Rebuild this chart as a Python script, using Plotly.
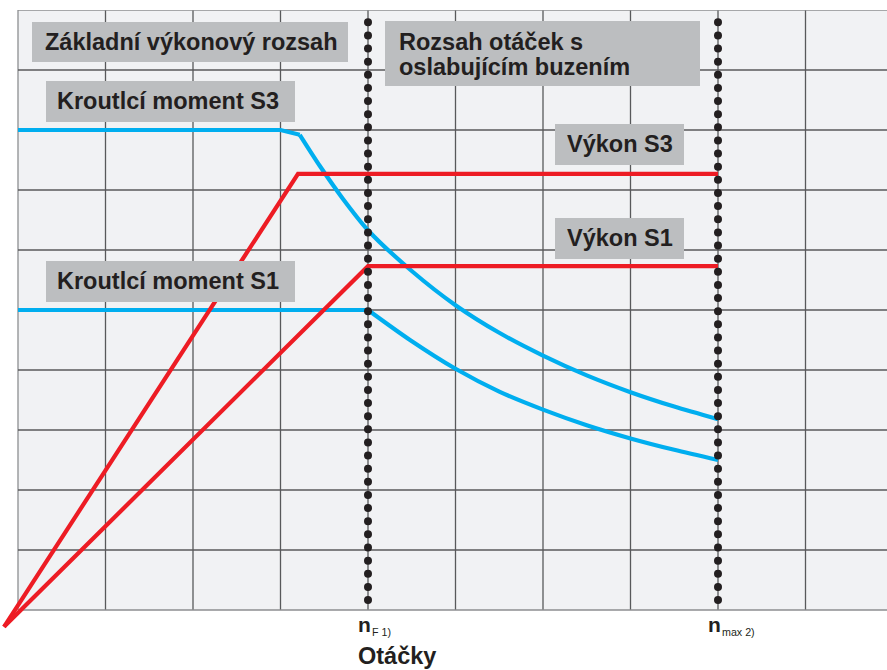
import plotly.graph_objects as go

# ---------------- data (grid units: x = speed, y = torque / power) ----------------
torque_s3_x = [0, 3.0, 3.22, 3.45, 3.71, 4.0, 4.5, 5.0, 5.5, 6.0, 6.5, 7.0, 7.5, 8.0]
torque_s3_y = [8.0, 8.0, 7.92, 7.40, 6.86, 6.33, 5.65, 5.08, 4.62, 4.24, 3.91, 3.63, 3.39, 3.18]

torque_s1_x = [0, 4.0, 4.48, 5.0, 5.5, 6.0, 6.5, 7.0, 7.5, 8.0]
torque_s1_y = [5.0, 5.0, 4.5, 4.02, 3.64, 3.34, 3.08, 2.86, 2.67, 2.5]

power_s3_x = [-0.16, 3.2, 8.0]
power_s3_y = [-0.28, 7.27, 7.27]

power_s1_x = [-0.16, 4.0, 8.0]
power_s1_y = [-0.28, 5.73, 5.73]

ref_speeds = [4, 8]                     # n_F, n_max
ref_main = ["n", "n"]
ref_sub = ["F 1)", "max 2)"]

grid_x = list(range(0, 10))
grid_y = list(range(0, 11))

# ---------------- layout constants ----------------
W, H = 887, 670
ML, MR, MT, MB = 0, 0, 10, 30
PX_X = 87.5      # px per x unit
PX_Y = 60.0      # px per y unit
X0_PX = 18.0     # pixel of x = 0
Y0_PX = 610.0    # pixel of y = 0

x_lo = -X0_PX / PX_X
x_hi = (W - X0_PX) / PX_X
y_hi = (Y0_PX - MT) / PX_Y
y_lo = -(H - MB - Y0_PX) / PX_Y


def px2x(px):
    return (px - X0_PX) / PX_X


def px2y(py):
    return (Y0_PX - py) / PX_Y


def px2paper_y(py):
    return (H - MB - py) / (H - MT - MB)


TXT = "#231f20"
BOX = "#bcbec0"
BG = "#f1f2f4"
GRID = "#58595b"
EDGE = "#8d8e91"
BLUE = "#00aeef"
RED = "#ed1c24"
FONT = "Liberation Sans, Arial, Helvetica, sans-serif"
LW = 4.2

fig = go.Figure()

# torque curves (blue): straight part + smooth field-weakening part
fig.add_trace(go.Scatter(x=torque_s3_x[:3], y=torque_s3_y[:3], mode="lines",
                         line=dict(color=BLUE, width=LW),
                         hoverinfo="skip", showlegend=False))
fig.add_trace(go.Scatter(x=torque_s3_x[2:], y=torque_s3_y[2:], mode="lines",
                         line=dict(color=BLUE, width=LW, shape="spline", smoothing=0.8),
                         hoverinfo="skip", showlegend=False))
fig.add_trace(go.Scatter(x=torque_s1_x[:2], y=torque_s1_y[:2], mode="lines",
                         line=dict(color=BLUE, width=LW),
                         hoverinfo="skip", showlegend=False))
fig.add_trace(go.Scatter(x=torque_s1_x[1:], y=torque_s1_y[1:], mode="lines",
                         line=dict(color=BLUE, width=LW, shape="spline", smoothing=0.8),
                         hoverinfo="skip", showlegend=False))
# power curves (red)
fig.add_trace(go.Scatter(x=power_s3_x, y=power_s3_y, mode="lines",
                         line=dict(color=RED, width=LW),
                         hoverinfo="skip", showlegend=False))
fig.add_trace(go.Scatter(x=power_s1_x, y=power_s1_y, mode="lines",
                         line=dict(color=RED, width=LW),
                         hoverinfo="skip", showlegend=False))

# dotted reference lines at n_F and n_max
for xs in ref_speeds:
    fig.add_trace(go.Scatter(x=[xs, xs], y=[px2y(22.3), px2y(600.5)], mode="lines",
                             line=dict(color=TXT, width=8, dash="0px,13.13px"),
                             hoverinfo="skip", showlegend=False))

shapes = []
# plot background
shapes.append(dict(type="rect", xref="x", yref="y", x0=0, x1=x_hi, y0=0, y1=10,
                   fillcolor=BG, line=dict(width=0), layer="below"))
# grid
for gx in grid_x:
    shapes.append(dict(type="line", xref="x", yref="y", x0=gx, x1=gx, y0=0, y1=10,
                       line=dict(color=GRID if gx else EDGE, width=1.3), layer="below"))
for gy in grid_y:
    shapes.append(dict(type="line", xref="x", yref="y", x0=0, x1=x_hi, y0=gy, y1=gy,
                       line=dict(color=GRID if gy not in (0, 10) else EDGE, width=1.3),
                       layer="below"))

annotations = []


def label_box(x0, x1, y0, y1):
    shapes.append(dict(type="rect", xref="x", yref="y",
                       x0=px2x(x0), x1=px2x(x1), y0=px2y(y1), y1=px2y(y0),
                       fillcolor=BOX, line=dict(width=0), layer="above"))


def label_text(text, px, py, anchor="left", size=23.5, bold=True, color=TXT):
    annotations.append(dict(x=px2x(px), y=px2y(py), xref="x", yref="y",
                            text=f"<b>{text}</b>" if bold else text,
                            showarrow=False, xanchor=anchor, yanchor="middle",
                            font=dict(family=FONT, size=size, color=color)))


label_box(32, 348, 22, 62)
label_text("Základní výkonový rozsah", 43, 42)

label_box(385, 700, 21, 86)
label_text("Rozsah otáček s", 397, 42)
label_text("oslabujícím buzením", 397, 67)

label_box(46, 295, 81, 122)
label_text("Kroutlcí moment S3", 55, 101)

label_box(46, 295, 261, 302)
label_text("Kroutlcí moment S1", 55, 281)

label_box(555, 684, 124, 165)
label_text("Výkon S3", 620, 144, anchor="center")

label_box(555, 684, 218, 259)
label_text("Výkon S1", 620, 238, anchor="center")

# tick labels under the reference lines
for xs, m, s in zip(ref_speeds, ref_main, ref_sub):
    annotations.append(dict(x=xs, y=px2y(624), xref="x", yref="y", text=f"<b>{m}</b>",
                            showarrow=False, xanchor="left", yanchor="middle", xshift=-12,
                            font=dict(family=FONT, size=21, color=TXT)))
    annotations.append(dict(x=xs, y=px2y(632), xref="x", yref="y", text=s,
                            showarrow=False, xanchor="left", yanchor="middle", xshift=2,
                            font=dict(family=FONT, size=10.7, color=TXT)))

# axis title (below the plotting area -> paper coordinates)
annotations.append(dict(x=397 / W, y=px2paper_y(656), xref="paper", yref="paper",
                        text="<b>Otáčky</b>", showarrow=False, xanchor="center", yanchor="middle",
                        font=dict(family=FONT, size=23.5, color=TXT)))

fig.update_layout(
    width=W, height=H,
    margin=dict(l=ML, r=MR, t=MT, b=MB, pad=0),
    paper_bgcolor="white", plot_bgcolor="white",
    xaxis=dict(range=[x_lo, x_hi], visible=False, fixedrange=True),
    yaxis=dict(range=[y_lo, y_hi], visible=False, fixedrange=True),
    shapes=shapes, annotations=annotations,
    showlegend=False,
)

post_js = """
document.body.style.margin = '0';
document.body.style.padding = '0';
document.body.style.overflow = 'hidden';
var gd = document.getElementById('{plot_id}');
function roundDots(){
  gd.querySelectorAll('path.js-line').forEach(function(p){
    var d = (p.style.strokeDasharray || '').replace(/\\s/g,'');
    if (d.indexOf('0px,') === 0 || d.indexOf('0,') === 0) { p.style.strokeLinecap = 'round'; }
  });
}
roundDots();
gd.on && gd.on('plotly_afterplot', roundDots);
"""

fig.write_html("out.html", config={"displayModeBar": False}, post_script=post_js)
